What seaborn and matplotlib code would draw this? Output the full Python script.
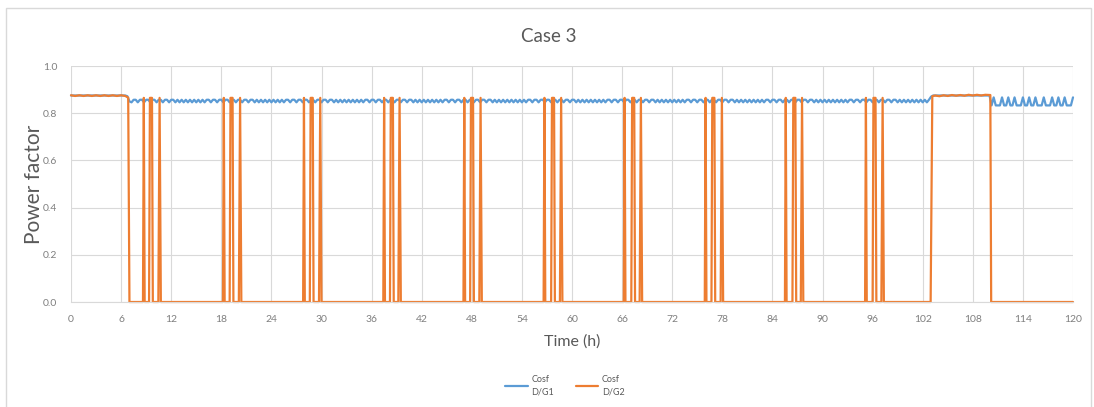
import numpy as np
import pandas as pd
import matplotlib
matplotlib.use("Agg")
import matplotlib.pyplot as plt
from matplotlib.patches import Rectangle
import seaborn as sns

# ---- data -------------------------------------------------------------
# D/G1 power factor, one sample every 15 min (values in thousandths)
g1_step_h = 0.25
g1_pf_milli = [
    # 0 - 6 h
    875, 875, 875, 875, 875, 875, 875, 875, 875, 875, 875, 875, 875, 875, 875, 875, 875, 875, 875, 875, 875, 875, 875, 875,
    # 6 - 12 h
    875, 875, 875, 872, 850, 846, 857, 857, 846, 857, 857, 846, 857, 857, 846, 857, 857, 846, 857, 857, 846, 857, 857, 846,
    # 12 - 18 h
    857, 857, 846, 857, 846, 857, 846, 857, 846, 857, 846, 857, 846, 857, 846, 857, 846, 857, 857, 846, 857, 857, 846, 857,
    # 18 - 24 h
    857, 846, 857, 857, 846, 857, 857, 846, 857, 857, 846, 857, 857, 846, 857, 857, 846, 857, 846, 857, 846, 857, 846, 857,
    # 24 - 30 h
    846, 857, 846, 857, 846, 857, 846, 857, 857, 846, 857, 857, 846, 857, 857, 846, 857, 857, 846, 857, 857, 846, 857, 857,
    # 30 - 36 h
    846, 857, 857, 846, 857, 857, 846, 857, 846, 857, 846, 857, 846, 857, 846, 857, 846, 857, 846, 857, 846, 857, 857, 846,
    # 36 - 42 h
    857, 857, 846, 857, 857, 846, 857, 857, 846, 857, 857, 846, 857, 857, 846, 857, 857, 846, 857, 857, 846, 857, 846, 857,
    # 42 - 48 h
    846, 857, 846, 857, 846, 857, 846, 857, 846, 857, 846, 857, 857, 846, 857, 857, 846, 857, 857, 846, 857, 857, 846, 857,
    # 48 - 54 h
    857, 846, 857, 857, 846, 857, 857, 846, 857, 857, 846, 857, 846, 857, 846, 857, 846, 857, 846, 857, 846, 857, 846, 857,
    # 54 - 60 h
    846, 857, 846, 857, 857, 846, 857, 857, 846, 857, 857, 846, 857, 857, 846, 857, 857, 846, 857, 857, 846, 857, 857, 846,
    # 60 - 66 h
    857, 857, 846, 857, 846, 857, 846, 857, 846, 857, 846, 857, 846, 857, 846, 857, 846, 857, 857, 846, 857, 857, 846, 857,
    # 66 - 72 h
    857, 846, 857, 857, 846, 857, 857, 846, 857, 857, 846, 857, 857, 846, 857, 857, 846, 857, 846, 857, 846, 857, 846, 857,
    # 72 - 78 h
    846, 857, 846, 857, 846, 857, 846, 857, 857, 846, 857, 857, 846, 857, 857, 846, 857, 857, 846, 857, 857, 846, 857, 857,
    # 78 - 84 h
    846, 857, 857, 846, 857, 857, 846, 857, 846, 857, 846, 857, 846, 857, 846, 857, 846, 857, 846, 857, 846, 857, 857, 846,
    # 84 - 90 h
    857, 857, 846, 857, 857, 846, 857, 857, 846, 857, 857, 846, 857, 857, 846, 857, 857, 846, 857, 857, 846, 857, 846, 857,
    # 90 - 96 h
    846, 857, 846, 857, 846, 857, 846, 857, 846, 857, 846, 857, 846, 857, 857, 846, 857, 857, 846, 857, 857, 846, 857, 857,
    # 96 - 102 h
    846, 857, 857, 846, 857, 857, 846, 857, 857, 846, 857, 857, 846, 857, 846, 857, 846, 857, 846, 857, 846, 857, 846, 857,
    # 102 - 108 h
    846, 857, 846, 857, 870, 875, 875, 875, 875, 875, 875, 875, 875, 875, 875, 875, 875, 875, 875, 875, 875, 875, 875, 875,
    # 108 - 114 h
    875, 875, 875, 875, 875, 875, 875, 875, 875, 833, 867, 833, 833, 833, 867, 833, 833, 867, 833, 833, 867, 833, 833, 833,
    # 114 - 120 h
    867, 833, 833, 867, 833, 833, 867, 833, 833, 833, 867, 833, 833, 833, 867, 833, 833, 867, 833, 833, 867, 833, 833, 833,
    867,
]

# D/G2 power factor, line vertices (hour, pf)
g2_hours = [
    0.0, 0.5, 1.0, 1.5, 2.0, 2.5, 3.0, 3.5, 4.0, 4.5, 5.0, 5.5, 6.0, 6.5, 6.85, 7.0,
    8.62, 8.72, 8.82, 9.35, 9.45, 9.70, 9.80, 10.46, 10.61, 10.76,
    18.2, 18.3, 18.4, 19.0, 19.1, 19.35, 19.45, 20.1, 20.25, 20.4,
    27.8, 27.9, 28.0, 28.6, 28.7, 28.95, 29.05, 29.7, 29.85, 30.0,
    37.4, 37.5, 37.6, 38.2, 38.3, 38.55, 38.65, 39.2, 39.35, 39.5,
    47.0, 47.1, 47.2, 47.8, 47.9, 48.15, 48.25, 48.9, 49.05, 49.2,
    56.6, 56.7, 56.8, 57.5, 57.6, 57.85, 57.95, 58.55, 58.7, 58.85,
    66.2, 66.3, 66.4, 67.1, 67.2, 67.45, 67.55, 68.1, 68.25, 68.4,
    75.9, 76.0, 76.1, 76.7, 76.8, 77.05, 77.15, 77.8, 77.95, 78.1,
    85.5, 85.6, 85.7, 86.4, 86.5, 86.75, 86.85, 87.4, 87.55, 87.7,
    95.1, 95.2, 95.3, 96.0, 96.1, 96.35, 96.45, 97.05, 97.2, 97.35,
    102.95, 103.15, 103.5, 104.0, 104.5, 105.0, 105.5, 106.0, 106.5, 107.0, 107.5, 108.0, 108.5, 109.0, 109.5, 110.1, 110.2,
    120.0,
]
g2_pf = [
    0.876, 0.873, 0.876, 0.873, 0.876, 0.873, 0.876, 0.873, 0.876, 0.873, 0.876, 0.873, 0.876, 0.873, 0.866, 0.0,
    0.0, 0.865, 0.0, 0.0, 0.865, 0.865, 0.0, 0.0, 0.865, 0.0,
    0.0, 0.865, 0.0, 0.0, 0.865, 0.865, 0.0, 0.0, 0.865, 0.0,
    0.0, 0.865, 0.0, 0.0, 0.865, 0.865, 0.0, 0.0, 0.865, 0.0,
    0.0, 0.865, 0.0, 0.0, 0.865, 0.865, 0.0, 0.0, 0.865, 0.0,
    0.0, 0.865, 0.0, 0.0, 0.865, 0.865, 0.0, 0.0, 0.865, 0.0,
    0.0, 0.865, 0.0, 0.0, 0.865, 0.865, 0.0, 0.0, 0.865, 0.0,
    0.0, 0.865, 0.0, 0.0, 0.865, 0.865, 0.0, 0.0, 0.865, 0.0,
    0.0, 0.865, 0.0, 0.0, 0.865, 0.865, 0.0, 0.0, 0.865, 0.0,
    0.0, 0.865, 0.0, 0.0, 0.865, 0.865, 0.0, 0.0, 0.865, 0.0,
    0.0, 0.865, 0.0, 0.0, 0.865, 0.865, 0.0, 0.0, 0.865, 0.0,
    0.0, 0.872, 0.875, 0.872, 0.876, 0.873, 0.877, 0.874, 0.877, 0.874, 0.878, 0.875, 0.878, 0.875, 0.878, 0.877, 0.0,
    0.0,
]

series_names = ["Cosf\nD/G1", "Cosf\nD/G2"]
series_colors = ["#5B9BD5", "#ED7D31"]
x_ticks = [0, 6, 12, 18, 24, 30, 36, 42, 48, 54, 60, 66, 72, 78, 84, 90, 96, 102, 108, 114, 120]
y_ticks = [0.0, 0.2, 0.4, 0.6, 0.8, 1.0]

# ---- long table for seaborn -------------------------------------------
g1 = pd.DataFrame({
    "hour": np.arange(len(g1_pf_milli)) * g1_step_h,
    "pf": np.array(g1_pf_milli) / 1000.0,
    "series": series_names[0],
})
g2 = pd.DataFrame({"hour": g2_hours, "pf": g2_pf, "series": series_names[1]})
df = pd.concat([g1, g2], ignore_index=True)

# ---- figure -----------------------------------------------------------
sns.set_theme(style="whitegrid")
plt.rcParams["font.family"] = ["Lato", "DejaVu Sans"]

W, H = 1094, 407
fig = plt.figure(figsize=(W / 100, H / 100), dpi=100)
ax = fig.add_axes([71 / W, 1 - 302 / H, (1073 - 71) / W, (302 - 66) / H])

sns.lineplot(data=df, x="hour", y="pf", hue="series", palette=series_colors,
             estimator=None, sort=False, linewidth=1.6, ax=ax)
for ln in ax.lines:
    ln.set_clip_on(False)

ax.set_xlim(0, 120)
ax.set_ylim(0, 1.0)
ax.set_xticks(x_ticks)
ax.set_xticklabels([str(t) for t in x_ticks])
ax.set_yticks(y_ticks)
ax.set_yticklabels([f"{v:.1f}" for v in y_ticks])
ax.set_xlabel("")
ax.set_ylabel("")
ax.grid(True, color="#d9d9d9", linewidth=0.8)
for side in ["top", "right", "left"]:
    ax.spines[side].set_visible(False)
ax.spines["bottom"].set_color("#d9d9d9")
ax.spines["bottom"].set_linewidth(0.8)
ax.tick_params(axis="both", length=0, labelsize=7.5, labelcolor="#7f7f7f")
ax.tick_params(axis="x", pad=9)
ax.tick_params(axis="y", pad=10)

# Titles
fig.text(549 / W, 1 - 37 / H, "Case 3", ha="center", va="center", fontsize=13.5, color="#595959")
fig.text(34 / W, 1 - 184 / H, "Power factor", ha="center", va="center", rotation=90,
         fontsize=15, color="#595959")
fig.text(572 / W, 1 - 342 / H, "Time (h)", ha="center", va="center", fontsize=11.5, color="#595959")

# Legend at the bottom
leg = ax.get_legend()
handles = leg.legend_handles
labels = [t.get_text() for t in leg.get_texts()]
leg.remove()
for h in handles:
    h.set_linewidth(1.6)
fleg = fig.legend(handles, labels, loc="center", bbox_to_anchor=(565 / W, 1 - 386 / H),
                  ncol=2, frameon=False, fontsize=6.5, handlelength=2.5,
                  handletextpad=0.4, columnspacing=2.4, borderpad=0.2)
for t in fleg.get_texts():
    t.set_color("#595959")
    t.set_linespacing(1.5)

# chart-area border
fig.patches.append(Rectangle((6 / W, -0.02), (1091 - 6) / W, 1.02 - 8 / H, transform=fig.transFigure,
                             fill=False, edgecolor="#d9d9d9", linewidth=1.0))

fig.savefig("out.png", dpi=100)
plt.close(fig)
